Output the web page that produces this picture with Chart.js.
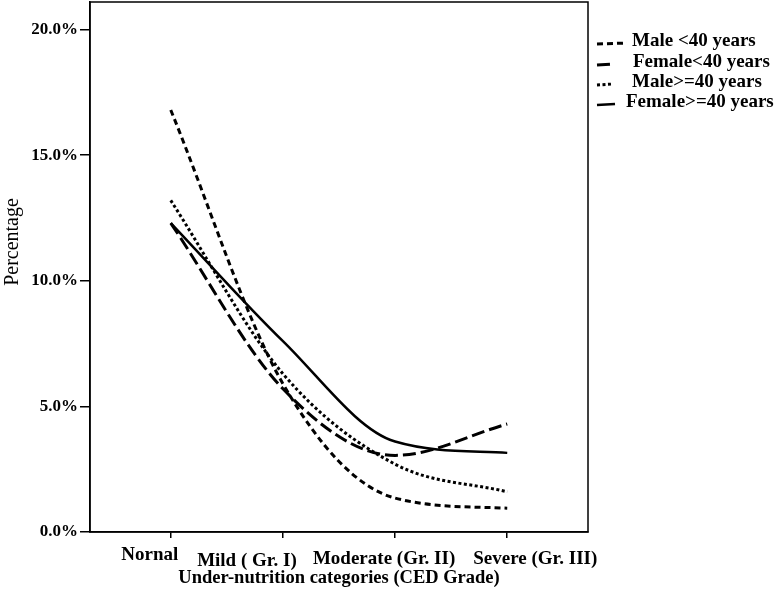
<!DOCTYPE html>
<html><head><meta charset="utf-8">
<script src="https://cdn.jsdelivr.net/npm/chart.js@4"></script>
<style>html,body{margin:0;padding:0;background:#fff}#wrap{width:781px;height:591px;position:relative}</style>
</head><body><div id="wrap"><canvas id="c"></canvas></div>
<script>
const categories = ['Nornal', 'Mild ( Gr. I)', 'Moderate (Gr. II)', 'Severe (Gr. III)'];
const seriesLabels = ['Male <40 years', 'Female<40 years', 'Male>=40 years', 'Female>=40 years'];
const maleUnder40 = [16.8, 5.9, 1.35, 0.95];
const femaleUnder40 = [12.3, 5.7, 3.05, 4.3];
const maleOver40 = [13.2, 6.3, 2.7, 1.6];
const femaleOver40 = [12.3, 7.6, 3.6, 3.15];
const yTicks = [0, 5, 10, 15, 20];

const serif = '"Liberation Serif", "DejaVu Serif", serif';
const styles = [
  {dash: [6, 4], width: 3, glyph: 30},
  {dash: [13, 5], width: 3, glyph: 16},
  {dash: [3, 2.5], width: 3, glyph: 16},
  {dash: [], width: 2.5, glyph: 18}
];
const seriesData = [maleUnder40, femaleUnder40, maleOver40, femaleOver40];
const labelShift = [[-21, 23], [-36, 29], [-11, 27], [28, 27]];
const legendPos = [[632, 41], [633, 62], [632, 82], [626, 102]];

const decor = {
  id: 'decor',
  afterDraw(chart) {
    const {ctx, chartArea: a, scales: {x}} = chart;
    ctx.save();
    ctx.strokeStyle = '#000';
    ctx.lineWidth = 1.5;
    ctx.setLineDash([]);
    ctx.strokeRect(a.left, a.top, a.right - a.left, a.bottom - a.top);
    ctx.fillStyle = '#000';
    ctx.textAlign = 'center';
    ctx.textBaseline = 'middle';
    ctx.font = 'bold 19px ' + serif;
    categories.forEach((c, i) => {
      ctx.fillText(c, x.getPixelForValue(i) + labelShift[i][0], a.bottom + labelShift[i][1]);
    });
    // legend
    ctx.textAlign = 'left';
    ctx.font = 'bold 19px ' + serif;
    seriesLabels.forEach((l, i) => {
      const [tx, ty] = legendPos[i];
      ctx.fillText(l, tx, ty);
      ctx.save();
      ctx.lineWidth = styles[i].width;
      ctx.setLineDash(styles[i].dash);
      ctx.beginPath();
      ctx.moveTo(597, ty + 3);
      ctx.lineTo(597 + styles[i].glyph, ty + 2);
      ctx.stroke();
      ctx.restore();
    });
    // y title
    ctx.translate(13, 242);
    ctx.rotate(-Math.PI / 2);
    ctx.textAlign = 'center';
    ctx.font = '20px ' + serif;
    ctx.fillText('Percentage', 0, 0);
    ctx.restore();
  }
};

new Chart(document.getElementById('c'), {
  type: 'line',
  data: {
    datasets: seriesData.map((arr, i) => ({
      label: seriesLabels[i],
      data: arr.map((v, j) => ({x: j, y: v})),
      borderColor: '#000',
      borderWidth: styles[i].width,
      borderDash: styles[i].dash,
      borderCapStyle: 'butt',
      pointRadius: 0,
      fill: false,
      tension: 0.4,
      cubicInterpolationMode: 'monotone'
    }))
  },
  options: {
    responsive: true,
    maintainAspectRatio: false,
    animation: false,
    layout: {padding: {top: 2, right: 193, left: 0, bottom: 0}},
    plugins: {legend: {display: false}, tooltip: {enabled: false}},
    scales: {
      x: {
        type: 'linear',
        min: -0.72,
        max: 3.72,
        afterBuildTicks(s) { s.ticks = categories.map((c, i) => ({value: i})); },
        afterFit(s) { s.height = 59; s.paddingLeft = 0; s.paddingRight = 0; },
        grid: {drawOnChartArea: false, drawTicks: true, tickLength: 6, color: '#000', lineWidth: 1.5},
        border: {color: '#000', width: 1.5},
        ticks: {display: false},
        title: {display: true, text: 'Under-nutrition categories (CED Grade)', color: '#000',
          font: {family: serif, size: 18.5, weight: 'bold'}, padding: {top: 0, bottom: 2}}
      },
      y: {
        min: 0,
        max: 21.1,
        afterBuildTicks(s) { s.ticks = yTicks.map(v => ({value: v})); },
        afterFit(s) { s.width = 90; s.paddingTop = 0; s.paddingBottom = 0; },
        grid: {drawOnChartArea: false, drawTicks: true, tickLength: 10, color: '#000', lineWidth: 1.5},
        border: {color: '#000', width: 1.5},
        ticks: {color: '#000', padding: 2, font: {family: serif, size: 17, weight: 'bold'},
          callback: v => v.toFixed(1) + '%'}
      }
    }
  },
  plugins: [decor]
});
</script></body></html>
